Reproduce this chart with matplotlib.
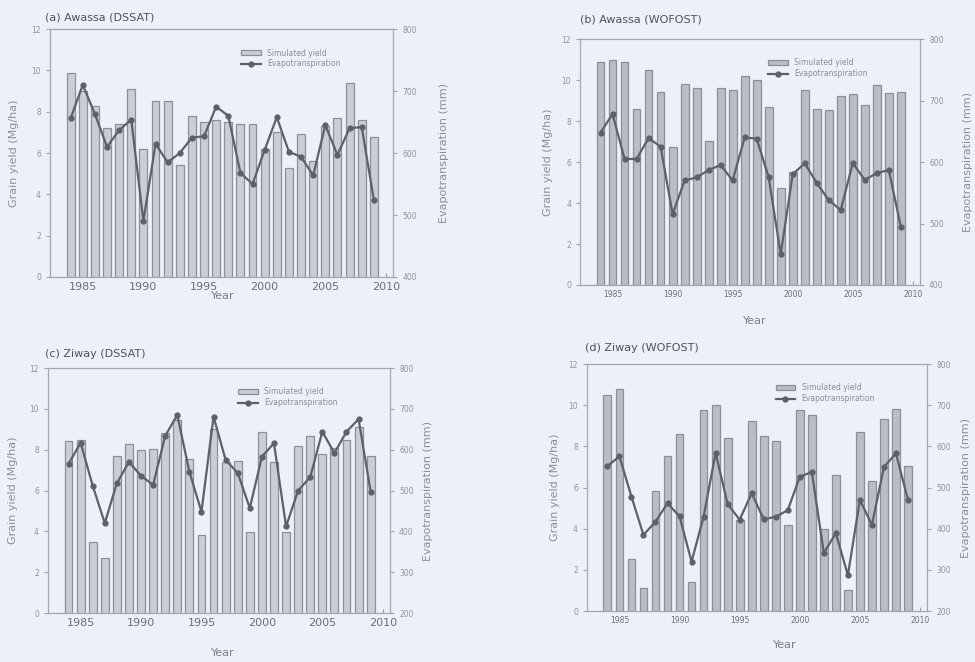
import matplotlib.pyplot as plt
import numpy as np

years = np.arange(1984, 2010)

# (a) Awassa DSSAT
yield_a = [9.9, 9.0, 8.3, 7.2, 7.4, 9.1, 6.2, 8.5, 8.5, 5.4, 7.8, 7.5, 7.6,
           7.5, 7.4, 7.4, 6.2, 7.0, 5.3, 6.9, 5.6, 7.3, 7.7, 9.4, 7.6, 6.8]
et_a = [656, 710, 663, 610, 637, 654, 490, 615, 585, 600, 625, 627, 675,
        660, 568, 550, 605, 658, 602, 594, 564, 645, 597, 640, 642, 525]

# (b) Awassa WOFOST
yield_b = [10.9, 11.0, 10.9, 8.6, 10.5, 9.4, 6.75, 9.8, 9.6, 7.05, 9.6, 9.5, 10.2,
           10.0, 8.7, 4.75, 5.5, 9.5, 8.6, 8.55, 9.2, 9.3, 8.8, 9.75, 9.35, 9.4]
et_b = [648, 678, 605, 605, 639, 625, 515, 570, 575, 587, 595, 570, 640,
        638, 575, 450, 580, 598, 566, 538, 522, 598, 571, 582, 587, 495]

# (c) Ziway DSSAT
yield_c = [8.45, 8.5, 3.5, 2.7, 7.7, 8.3, 8.0, 8.05, 8.8, 9.45, 7.55, 3.8, 9.0,
           7.4, 7.45, 3.95, 8.85, 7.4, 3.95, 8.2, 8.65, 7.8, 8.1, 8.5, 9.1, 7.7]
et_c = [565, 617, 512, 420, 518, 570, 536, 514, 634, 685, 546, 448, 681,
        575, 543, 457, 583, 616, 412, 500, 533, 644, 592, 644, 675, 497]

# (d) Ziway WOFOST
yield_d = [10.5, 10.8, 2.55, 1.1, 5.85, 7.55, 8.6, 1.4, 9.75, 10.0, 8.4, 4.4, 9.25,
           8.5, 8.25, 4.2, 9.75, 9.55, 4.0, 6.6, 1.0, 8.7, 6.3, 9.35, 9.8, 7.05]
et_d = [552, 576, 478, 385, 417, 462, 430, 320, 429, 584, 460, 422, 486,
        423, 429, 445, 526, 538, 341, 389, 287, 470, 409, 550, 583, 470]

bg = '#edf1f7'
fig = plt.figure(figsize=(9.75, 6.62), dpi=100, facecolor=bg)


def panel(rect, title, yld, et, et_lim, xfs, bar_fc, title_pos, xl_pos, pads):
    ax = fig.add_axes(rect)
    ax.set_facecolor(bg)
    ax.bar(years, yld, width=0.65, color=bar_fc, edgecolor='#8a9099',
           linewidth=0.9, label='Simulated yield', zorder=2)
    ax.set_ylim(0, 12)
    ax.set_yticks(range(0, 13, 2))
    ax.set_xlim(1982.3, 2010.6)
    ax.set_xticks(range(1985, 2011, 5))
    ax.tick_params(axis='x', labelsize=xfs, colors='#9a9fa6', labelcolor='#6a6f76',
                   length=3, direction='in')
    ax.tick_params(axis='y', labelsize=5.5, colors='#a0a5ac', labelcolor='#8f949b',
                   length=3)
    for s in ax.spines.values():
        s.set_color('#a3a8af')
        s.set_linewidth(0.9)
    ax.set_ylabel('Grain yield (Mg/ha)', fontsize=8, color='#8a8f96',
                  labelpad=pads[0])

    ax2 = ax.twinx()
    ax2.plot(years, et, color='#5d6167', lw=1.6, marker='o', ms=3.5,
             label='Evapotranspiration', zorder=3)
    ax2.set_ylim(*et_lim)
    ax2.set_yticks(range(et_lim[0], et_lim[1] + 1, 100))
    ax2.tick_params(axis='y', labelsize=5.5, colors='#a0a5ac', labelcolor='#8f949b',
                    length=3)
    for s in ax2.spines.values():
        s.set_visible(False)
    ax2.set_ylabel('Evapotranspiration (mm)', fontsize=8, color='#8a8f96',
                   labelpad=pads[1])

    h1, l1 = ax.get_legend_handles_labels()
    h2, l2 = ax2.get_legend_handles_labels()
    ax2.legend(h1 + h2, l1 + l2, loc='upper right', bbox_to_anchor=(0.86, 0.94),
               frameon=False, fontsize=5.5, labelcolor='#8a8f96',
               handlelength=2.6, handleheight=0.6, borderaxespad=0.2,
               labelspacing=0.25)

    fig.text(title_pos[0] / 975, 1 - title_pos[1] / 662, title, fontsize=8,
             color='#4e5359', va='center')
    fig.text(xl_pos[0] / 975, 1 - xl_pos[1] / 662, 'Year', fontsize=8,
             color='#7a7f86', ha='center', va='center')
    return ax


panel([0.0513, 0.5816, 0.352, 0.3744], '(a) Awassa (DSSAT)', yield_a, et_a,
      (400, 800), 8, '#c9cdd4', (45, 17), (223, 296), (9, 16))
panel([0.595, 0.5695, 0.3486, 0.3715], '(b) Awassa (WOFOST)', yield_b, et_b,
      (400, 800), 5.5, '#b9bdc5', (580, 20), (755, 321), (6, 14))
panel([0.0492, 0.074, 0.3508, 0.370], '(c) Ziway (DSSAT)', yield_c, et_c,
      (200, 800), 8, '#c9cdd4', (45, 354), (223, 653), (8, 7))
panel([0.602, 0.077, 0.349, 0.373], '(d) Ziway (WOFOST)', yield_d, et_d,
      (200, 800), 5.5, '#b9bdc5', (585, 348), (785, 645), (6, 7))

fig.savefig('out.png', dpi=100, facecolor=bg)
